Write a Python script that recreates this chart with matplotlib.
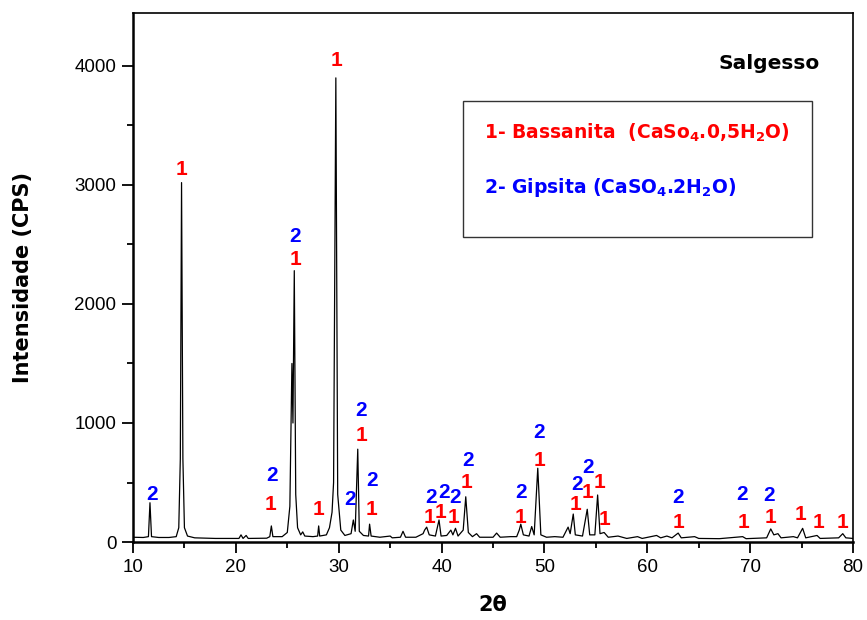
import matplotlib
matplotlib.use("Agg")
import matplotlib.pyplot as plt
from matplotlib.ticker import MultipleLocator

# XRD trace vertices (2theta, counts)
two_theta = [10.0, 11.0, 11.5, 11.65, 11.8, 12.5, 13.5, 14.2, 14.45, 14.6, 14.72, 14.85, 15.0, 15.3,
             16.0, 18.0, 20.3, 20.5, 20.7, 21.0, 21.2, 23.0, 23.3, 23.45, 23.6, 24.5, 25.0, 25.25,
             25.45, 25.55, 25.68, 25.82, 26.0, 26.3, 26.5, 26.7, 27.5, 27.95, 28.05, 28.15, 28.8,
             29.1, 29.35, 29.5, 29.72, 29.9, 30.2, 30.6, 31.2, 31.42, 31.6, 31.85, 32.0, 32.4, 32.9,
             33.0, 33.15, 34.0, 35.0, 35.2, 36.0, 36.25, 36.5, 37.5, 38.2, 38.35, 38.55, 38.8, 39.4,
             39.75, 39.95, 40.5, 40.9, 41.1, 41.35, 41.6, 42.1, 42.35, 42.6, 43.0, 43.4, 43.7, 45.0,
             45.35, 45.7, 46.7, 47.3, 47.55, 47.7, 47.95, 48.5, 48.76, 49.0, 49.35, 49.65, 50.2, 51.0,
             51.8, 52.3, 52.5, 52.8, 53.0, 53.7, 54.16, 54.4, 54.9, 55.17, 55.4, 55.8, 56.2, 57.15,
             58.0, 59.05, 59.5, 60.9, 61.3, 61.9, 62.4, 63.0, 63.3, 64.6, 65.0, 67.0, 69.27, 69.6,
             71.6, 72.0, 72.3, 72.7, 73.0, 74.2, 74.6, 75.1, 75.4, 76.5, 76.8, 78.6, 79.0, 79.3, 80.0]
counts = [40, 38, 45, 330, 45, 38, 38, 45, 120, 700, 3020, 700, 120, 50,
          35, 30, 30, 60, 30, 55, 30, 32, 45, 135, 45, 45, 80, 300,
          1500, 1000, 2280, 400, 120, 60, 85, 50, 45, 50, 135, 50, 60,
          120, 250, 500, 3900, 400, 100, 55, 70, 185, 90, 780, 90, 55, 50,
          150, 50, 40, 50, 35, 40, 90, 40, 40, 70, 100, 125, 60, 50,
          185, 50, 55, 100, 60, 115, 50, 100, 380, 80, 45, 70, 40, 40,
          75, 40, 45, 45, 100, 150, 60, 50, 130, 60, 620, 60, 40, 45,
          40, 125, 70, 235, 60, 50, 275, 60, 60, 395, 70, 80, 40, 50,
          30, 45, 30, 55, 35, 50, 35, 75, 35, 45, 30, 28, 45, 28,
          35, 110, 60, 70, 35, 45, 35, 115, 35, 55, 30, 35, 70, 35, 30]

# phase marks: 1 = Bassanita (red), 2 = Gipsita (blue)
mark1_x = [14.67, 23.32, 25.75, 27.99, 29.74, 32.17, 33.14, 38.78, 39.85, 41.11, 42.47, 47.72,
           49.5, 52.97, 54.2, 55.4, 55.82, 63.08, 69.33, 71.93, 74.85, 76.63, 79.0]
mark1_y = [3126, 311, 2370, 269, 4050, 899, 269, 202, 244, 202, 504, 210,
           689, 311, 412, 496, 185, 168, 160, 210, 235, 160, 168]
mark2_x = [11.85, 23.51, 25.75, 31.1, 32.17, 33.24, 38.97, 40.24, 41.3, 42.57, 47.69, 49.5,
           53.2, 54.27, 62.95, 69.17, 71.86]
mark2_y = [395, 563, 2571, 353, 1109, 521, 378, 420, 378, 681, 412, 916,
           487, 622, 378, 403, 387]

plt.rcParams["mathtext.fontset"] = "dejavusans"

fig = plt.figure(figsize=(8.67, 6.2), dpi=100)
ax = fig.add_axes([0.1534, 0.1258, 0.8305, 0.8532])

ax.plot(two_theta, counts, color="black", lw=0.9)

for x, y in zip(mark1_x, mark1_y):
    ax.text(x, y, "1", color="red", fontsize=15, fontweight="bold",
            family=["Liberation Sans", "DejaVu Sans"], ha="center", va="center")
for x, y in zip(mark2_x, mark2_y):
    ax.text(x, y, "2", color="blue", fontsize=15, fontweight="bold",
            family=["Liberation Sans", "DejaVu Sans"], ha="center", va="center")

ax.set_xlim(10, 80)
ax.set_ylim(0, 4445)
ax.xaxis.set_major_locator(MultipleLocator(10))
ax.xaxis.set_minor_locator(MultipleLocator(5))
ax.yaxis.set_major_locator(MultipleLocator(1000))
ax.yaxis.set_minor_locator(MultipleLocator(500))
ax.tick_params(which="major", direction="out", length=8, width=1.3, labelsize=13.5, pad=4)
ax.tick_params(which="minor", direction="out", length=4, width=1.3)
for lab in ax.get_xticklabels() + ax.get_yticklabels():
    lab.set_family(["Liberation Sans Narrow", "Liberation Sans"])
for s in ["left", "bottom"]:
    ax.spines[s].set_linewidth(1.8)
for s in ["top", "right"]:
    ax.spines[s].set_linewidth(1.2)

ax.set_xlabel("2θ", fontsize=15, fontweight="bold", labelpad=14)
ax.set_ylabel("Intensidade (CPS)", fontsize=15, fontweight="bold", labelpad=30)

ax.text(0.883, 0.905, "Salgesso", transform=ax.transAxes, fontsize=14.5,
        fontweight="bold", ha="center", va="center")

box = plt.Rectangle((0.458, 0.577), 0.485, 0.257, transform=ax.transAxes,
                    fill=False, edgecolor="#333333", lw=1.0)
ax.add_patch(box)
ax.text(0.4875, 0.773, r"1- Bassanita  (CaSo$_\mathbf{4}$.0,5H$_\mathbf{2}$O)",
        transform=ax.transAxes, color="red", fontsize=13.5, fontweight="bold", va="center")
ax.text(0.4875, 0.671, r"2- Gipsita (CaSO$_\mathbf{4}$.2H$_\mathbf{2}$O)",
        transform=ax.transAxes, color="blue", fontsize=13.5, fontweight="bold", va="center")

fig.savefig("out.png", dpi=100)
